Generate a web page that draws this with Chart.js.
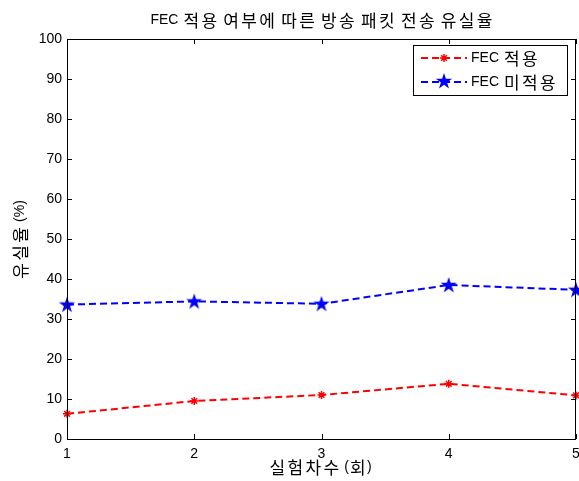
<!DOCTYPE html>
<html>
<head>
<meta charset="utf-8">
<script src="https://cdn.jsdelivr.net/npm/chart.js@4"></script>
<style>
  body { margin: 0; background: #fff; }
  #wrap { width: 579px; height: 481px; }
</style>
</head>
<body>
<div id="wrap"><canvas id="lossChart" width="579" height="481"></canvas></div>
<script>
// data
const rounds = [1, 2, 3, 4, 5];
const lossWithFec = [6.3, 9.5, 11.0, 13.8, 10.9];
const lossWithoutFec = [33.6, 34.4, 33.8, 38.5, 37.3];
const seriesNames = ['FEC 적용', 'FEC 미적용'];
const chartTitle = 'FEC 적용 여부에 따른 방송 패킷 전송 유실율';
const xTitle = '실험차수 (회)';
const yTitle = '유실율 (%)';

const FONT = "'Liberation Sans', 'Noto Sans CJK KR', sans-serif";
const LATIN_FONT = "14px 'Liberation Sans', sans-serif";
const HANGUL_FONT = "17px 'Noto Sans CJK KR', sans-serif";
const HANGUL_ADVANCE = 18;

function isHangul(ch) {
  const c = ch.charCodeAt(0);
  return c >= 0xAC00 && c <= 0xD7AF;
}

// the reference uses a wide korean face, so hangul gets its own font and pitch
function textWidth(ctx, text) {
  let w = 0;
  for (const ch of text) {
    if (isHangul(ch)) { w += HANGUL_ADVANCE; continue; }
    ctx.font = LATIN_FONT;
    w += ctx.measureText(ch).width;
  }
  return w;
}

function drawMixed(ctx, text, x, y, align) {
  const w = textWidth(ctx, text);
  let px = align === 'center' ? x - w / 2 : x;
  ctx.textAlign = 'left';
  ctx.textBaseline = 'middle';
  for (const ch of text) {
    if (isHangul(ch)) {
      ctx.font = HANGUL_FONT;
      const cw = ctx.measureText(ch).width;
      ctx.fillText(ch, px + (HANGUL_ADVANCE - cw) / 2, y + 1);
      px += HANGUL_ADVANCE;
    } else {
      ctx.font = LATIN_FONT;
      ctx.fillText(ch, px, y);
      px += ctx.measureText(ch).width;
    }
  }
}

// filled five-point star like matlab's pentagram marker
function makePentagram(size, color) {
  const c = document.createElement('canvas');
  c.width = size; c.height = size;
  const g = c.getContext('2d');
  const cx = size / 2, cy = size / 2 + 0.5;
  const R = size / 2 - 0.5, r = R * 0.382;
  g.beginPath();
  for (let i = 0; i < 10; i++) {
    const rad = i % 2 === 0 ? R : r;
    const a = -Math.PI / 2 + i * Math.PI / 5;
    const px = cx + rad * Math.cos(a), py = cy + rad * Math.sin(a);
    if (i === 0) g.moveTo(px, py); else g.lineTo(px, py);
  }
  g.closePath();
  g.fillStyle = color;
  g.fill();
  return c;
}
const starMarker = makePentagram(18, '#0000ff');

function toPoints(vals) {
  return rounds.map((x, i) => ({ x: x, y: vals[i] }));
}

// frame, inward ticks, titles and legend
const decorations = {
  id: 'decorations',
  afterDraw(chart) {
    const ctx = chart.ctx;
    const a = chart.chartArea;
    const xs = chart.scales.x, ys = chart.scales.y;
    ctx.save();
    ctx.strokeStyle = '#000';
    ctx.lineWidth = 1;
    ctx.strokeRect(Math.round(a.left) + 0.5, Math.round(a.top) + 0.5,
      Math.round(a.right - a.left) - 1, Math.round(a.bottom - a.top));
    ctx.beginPath();
    rounds.forEach(v => {
      const px = Math.round(xs.getPixelForValue(v)) + 0.5;
      ctx.moveTo(px, a.bottom); ctx.lineTo(px, a.bottom - 5);
      ctx.moveTo(px, a.top); ctx.lineTo(px, a.top + 5);
    });
    ys.ticks.forEach(t => {
      const py = Math.round(ys.getPixelForValue(t.value)) + 0.5;
      ctx.moveTo(a.left, py); ctx.lineTo(a.left + 5, py);
      ctx.moveTo(a.right, py); ctx.lineTo(a.right - 5, py);
    });
    ctx.stroke();

    ctx.fillStyle = '#000';
    drawMixed(ctx, chartTitle, 322, 20, 'center');
    drawMixed(ctx, xTitle, 320, 467, 'center');
    ctx.translate(20, 240);
    ctx.rotate(-Math.PI / 2);
    drawMixed(ctx, yTitle, 0, 0, 'center');
    ctx.restore();

    // legend box
    ctx.save();
    const bx = 413.5, by = 45.5, bw = 154, bh = 50;
    ctx.fillStyle = '#fff';
    ctx.fillRect(bx, by, bw, bh);
    ctx.strokeStyle = '#000';
    ctx.lineWidth = 1;
    ctx.strokeRect(bx, by, bw, bh);
    const rows = [58, 82];
    chart.data.datasets.forEach((ds, i) => {
      const y = rows[i];
      ctx.strokeStyle = ds.borderColor;
      ctx.lineWidth = 2;
      ctx.setLineDash([7, 4]);
      ctx.beginPath();
      ctx.moveTo(421, y); ctx.lineTo(467, y);
      ctx.stroke();
      ctx.setLineDash([]);
      if (i === 0) {
        const r = 4;
        ctx.lineWidth = 1.5;
        ctx.beginPath();
        ctx.moveTo(444 - r, y); ctx.lineTo(444 + r, y);
        ctx.moveTo(444, y - r); ctx.lineTo(444, y + r);
        ctx.moveTo(444 - r * 0.7, y - r * 0.7); ctx.lineTo(444 + r * 0.7, y + r * 0.7);
        ctx.moveTo(444 - r * 0.7, y + r * 0.7); ctx.lineTo(444 + r * 0.7, y - r * 0.7);
        ctx.stroke();
      } else {
        ctx.drawImage(starMarker, 444 - 9, y - 10);
      }
      ctx.fillStyle = '#000';
      drawMixed(ctx, seriesNames[i], 471, y, 'left');
    });
    ctx.restore();
  }
};

const ctx = document.getElementById('lossChart').getContext('2d');
new Chart(ctx, {
  type: 'line',
  data: {
    datasets: [{
      label: seriesNames[0],
      data: toPoints(lossWithFec),
      borderColor: '#ff0000',
      backgroundColor: '#ff0000',
      borderWidth: 2,
      borderDash: [7, 4],
      pointStyle: 'star',
      pointRadius: 4,
      pointBorderWidth: 1.5,
      pointBorderColor: '#ff0000',
      tension: 0,
      clip: false
    }, {
      label: seriesNames[1],
      data: toPoints(lossWithoutFec),
      borderColor: '#0000ff',
      backgroundColor: '#0000ff',
      borderWidth: 2,
      borderDash: [7, 4],
      pointStyle: starMarker,
      pointRadius: 9,
      tension: 0,
      clip: false
    }]
  },
  options: {
    responsive: false,
    animation: false,
    layout: { autoPadding: false, padding: { top: 39, right: 3, left: 0, bottom: 0 } },
    plugins: {
      legend: { display: false },
      tooltip: { enabled: false }
    },
    scales: {
      x: {
        type: 'linear',
        min: 1,
        max: 5,
        ticks: { stepSize: 1, color: '#000', font: { family: FONT, size: 14 }, padding: 7 },
        grid: { display: false, drawTicks: false },
        border: { display: false },
        afterFit: s => { s.height = 42; s.paddingLeft = 0; s.paddingRight = 0; }
      },
      y: {
        min: 0,
        max: 100,
        ticks: { stepSize: 10, color: '#000', font: { family: FONT, size: 14 }, padding: 5 },
        grid: { display: false, drawTicks: false },
        border: { display: false },
        afterFit: s => { s.width = 67; s.paddingTop = 0; s.paddingBottom = 0; }
      }
    }
  },
  plugins: [decorations]
});
</script>
</body>
</html>
